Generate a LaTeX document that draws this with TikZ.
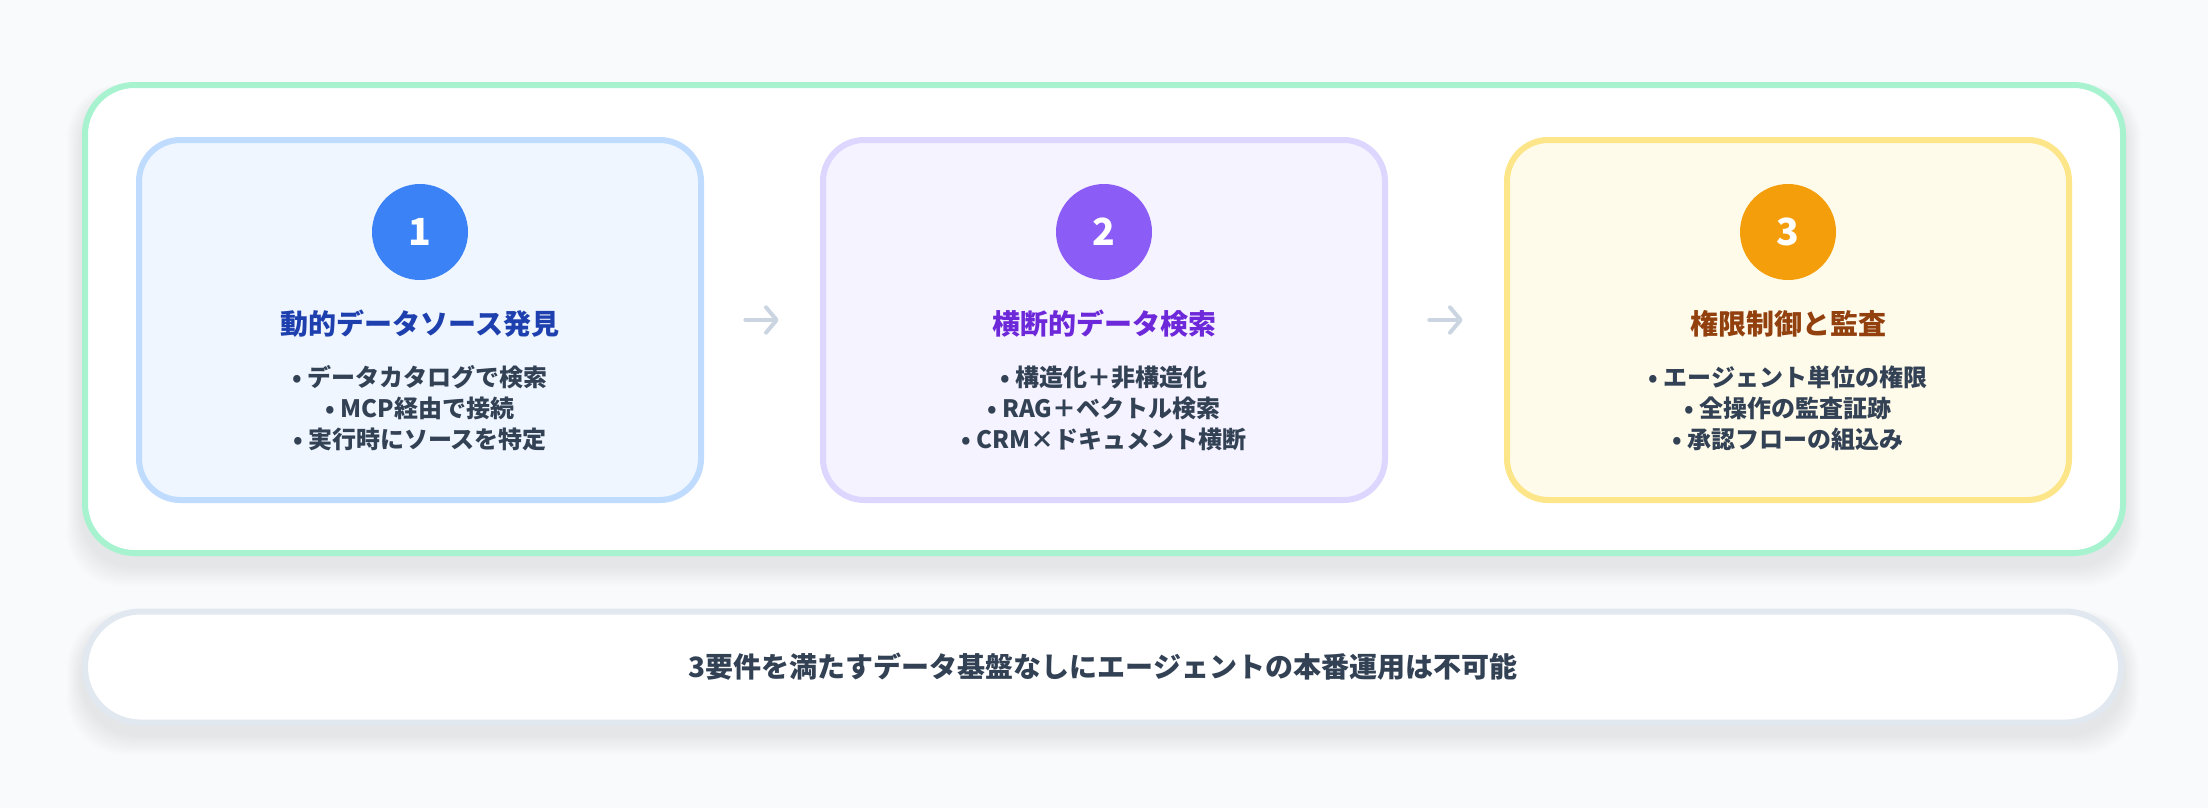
\documentclass[tikz,border=0pt]{standalone}
\usepackage{fontspec}
\setmainfont{Noto Sans CJK JP}
\usetikzlibrary{arrows.meta}
\definecolor{bg}{HTML}{F8FAFC}
\definecolor{outerline}{HTML}{A7F3D0}
\definecolor{cAfill}{HTML}{EFF6FF}
\definecolor{cAline}{HTML}{BFDBFE}
\definecolor{cAnum}{HTML}{3B82F6}
\definecolor{cAtitle}{HTML}{1E40AF}
\definecolor{cBfill}{HTML}{F5F3FF}
\definecolor{cBline}{HTML}{DDD6FE}
\definecolor{cBnum}{HTML}{8B5CF6}
\definecolor{cBtitle}{HTML}{6D28D9}
\definecolor{cCfill}{HTML}{FFFBEB}
\definecolor{cCline}{HTML}{FDE68A}
\definecolor{cCnum}{HTML}{F59E0B}
\definecolor{cCtitle}{HTML}{92400E}
\definecolor{bodytext}{HTML}{334155}
\definecolor{barline}{HTML}{E2E8F0}
\definecolor{arrowcol}{HTML}{CBD5E1}
\tikzset{
  outerbox/.style={draw=outerline, fill=white, line width=4.5pt, rounded corners=37pt,
    minimum width=1528.5pt, minimum height=351pt, inner sep=0pt},
  card/.style={line width=4.5pt, rounded corners=31pt,
    minimum width=421.5pt, minimum height=270pt, inner sep=0pt},
  numdot/.style={circle, minimum size=72pt, inner sep=0pt, text=white,
    font=\fontsize{28pt}{32pt}\selectfont\bfseries},
  cardtitle/.style={font=\fontsize{21pt}{25pt}\selectfont\bfseries, inner sep=0pt},
  bullets/.style={font=\fontsize{18pt}{23.25pt}\selectfont\bfseries, text=bodytext,
    align=center, inner sep=0pt},
  bar/.style={draw=barline, fill=white, line width=4.5pt, rounded corners=41.6pt,
    minimum width=1527pt, minimum height=83.25pt, inner sep=0pt, text=bodytext,
    font=\fontsize{21pt}{25pt}\selectfont\bfseries},
  flow/.style={draw=arrowcol, line width=3pt, line cap=round,
    -{Straight Barb[round,length=8pt,width=19pt]}},
  shadowlayer/.style={fill=black, opacity=0.009}
}
\begin{document}
\begin{tikzpicture}[x=0.75pt,y=-0.75pt]
\useasboundingbox (0,0) rectangle (2208,808);
\fill[bg] (0,0) rectangle (2208,808);
% soft shadows
\foreach \k in {1,...,10} {
  \fill[shadowlayer, rounded corners=40pt] (82-1.5*\k,92-0.8*\k) rectangle (2126+1.5*\k,566+2*\k);
  \fill[shadowlayer, rounded corners=44pt] (82-1.5*\k,618-0.8*\k) rectangle (2124+1.5*\k,735+2*\k);
}
% outer container
\node[outerbox] (outer) at (1104,319) {};
% cards
\node[card, fill=cAfill, draw=cAline] (card1) at (420,320) {};
\node[card, fill=cBfill, draw=cBline] (card2) at (1104,320) {};
\node[card, fill=cCfill, draw=cCline] (card3) at (1788,320) {};
% numbers
\node[numdot, fill=cAnum] (num1) at (420,232) {1};
\node[numdot, fill=cBnum] (num2) at (1104,232) {2};
\node[numdot, fill=cCnum] (num3) at (1788,232) {3};
% titles
\node[cardtitle, text=cAtitle] (title1) at (420,324) {動的データソース発見};
\node[cardtitle, text=cBtitle] (title2) at (1104,324) {横断的データ検索};
\node[cardtitle, text=cCtitle] (title3) at (1788,324) {権限制御と監査};
% bullets
\node[bullets] (list1) at (420,408) {• データカタログで検索\\• MCP経由で接続\\• 実行時にソースを特定};
\node[bullets] (list2) at (1104,408) {• 構造化＋非構造化\\• RAG＋ベクトル検索\\• CRM×ドキュメント横断};
\node[bullets] (list3) at (1788,408) {• エージェント単位の権限\\• 全操作の監査証跡\\• 承認フローの組込み};
% arrows
\draw[flow] ([xshift=31pt]card1.east) -- ([xshift=-31pt]card2.west);
\draw[flow] ([xshift=31pt]card2.east) -- ([xshift=-31pt]card3.west);
% bottom bar
\node[bar] (bar) at (1103,667) {3要件を満たすデータ基盤なしにエージェントの本番運用は不可能};
\end{tikzpicture}
\end{document}
